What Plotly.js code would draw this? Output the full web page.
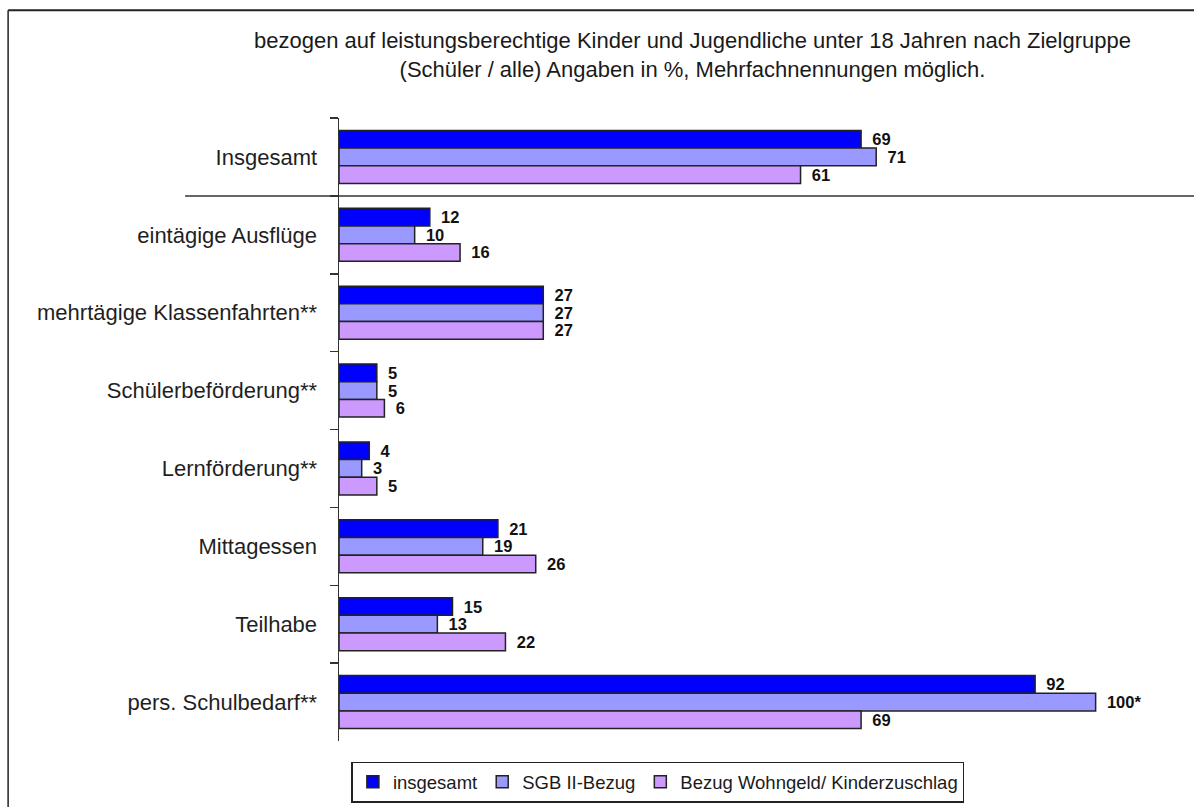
<!DOCTYPE html>
<html>
<head>
<meta charset="utf-8">
<script src="https://cdn.plot.ly/plotly-3.0.1.min.js"></script>
<style>html,body{margin:0;padding:0;background:#fff;}#chart{width:1194px;height:807px;}</style>
</head>
<body>
<div id="chart"></div>
<script>
const categories = ['Insgesamt', 'eintägige Ausflüge', 'mehrtägige Klassenfahrten**', 'Schülerbeförderung**', 'Lernförderung**', 'Mittagessen', 'Teilhabe', 'pers. Schulbedarf**'];
const seriesNames = ['insgesamt', 'SGB II-Bezug', 'Bezug Wohngeld/ Kinderzuschlag'];
const insgesamt = [69, 12, 27, 5, 4, 21, 15, 92];
const sgb = [71, 10, 27, 5, 3, 19, 13, 100];
const wohngeld = [61, 16, 27, 6, 5, 26, 22, 69];
const sgbNotes = ['', '', '', '', '', '', '', '*'];
const titleLines = ['bezogen auf leistungsberechtige Kinder und Jugendliche unter 18 Jahren nach Zielgruppe', '(Schüler / alle) Angaben in %, Mehrfachnennungen möglich.'];

const colors = ['#0000FF', '#9999FF', '#CC99FF'];
const font = 'Liberation Sans, Arial, sans-serif';

function mk(name, vals, color, notes) {
  return {
    type: 'bar', orientation: 'h', name: name,
    x: vals, y: categories,
    text: vals.map((v, i) => '\u2002' + v + (notes ? notes[i] : '')),
    textposition: 'outside', cliponaxis: false, constraintext: 'none',
    textfont: {family: font, size: 16.5, color: '#111', weight: 'bold'},
    marker: {color: color, line: {color: '#222', width: 1.5}},
    hoverinfo: 'x+y+name'
  };
}

const data = [
  mk(seriesNames[0], insgesamt, colors[0]),
  mk(seriesNames[1], sgb, colors[1], sgbNotes),
  mk(seriesNames[2], wohngeld, colors[2])
];

const layout = {
  width: 1194, height: 807,
  margin: {l: 339, r: 0, t: 118, b: 66},
  paper_bgcolor: '#fff', plot_bgcolor: 'rgba(0,0,0,0)',
  font: {family: font, color: '#1a1a1a'},
  barmode: 'group', bargap: 0.32, bargroupgap: 0,
  title: {
    text: titleLines.join('<br>'),
    font: {family: font, size: 22, color: '#1a1a1a'},
    x: 0.58, xref: 'container', xanchor: 'center',
    y: 0.94, yref: 'container', yanchor: 'top'
  },
  xaxis: {range: [0, 113], visible: false, showgrid: false, zeroline: false, fixedrange: true},
  yaxis: {
    type: 'category', range: [7.5, -0.5], showgrid: false, zeroline: false,
    showline: true, linecolor: '#333', linewidth: 1.5,
    ticks: 'outside', tickson: 'boundaries', ticklen: 8, tickcolor: '#333', tickwidth: 1.5,
    tickfont: {family: font, size: 22, color: '#1f1f1f'},
    ticklabelstandoff: 16, fixedrange: true
  },
  legend: {
    orientation: 'h', xref: 'container', yref: 'container',
    x: 0.551, xanchor: 'center', y: 0.056, yanchor: 'top',
    bgcolor: '#fff', bordercolor: '#222', borderwidth: 1.5,
    font: {family: font, size: 18.5, color: '#1a1a1a'},
    itemwidth: 30, traceorder: 'normal'
  },
  shapes: [
    {type: 'line', xref: 'paper', yref: 'y', x0: -0.18, x1: 1.0, y0: 0.5, y1: 0.5,
     line: {color: '#333', width: 1.5}},
    {type: 'line', xref: 'paper', yref: 'paper', x0: -0.387, x1: 1.05, y0: 1.173, y1: 1.173,
     line: {color: '#222', width: 2}},
    {type: 'line', xref: 'paper', yref: 'paper', x0: -0.387, x1: -0.387, y0: -0.2, y1: 1.173,
     line: {color: '#222', width: 1.5}}
  ],
  showlegend: true
};

Plotly.newPlot('chart', data, layout, {displayModeBar: false, staticPlot: true});
</script>
</body>
</html>
